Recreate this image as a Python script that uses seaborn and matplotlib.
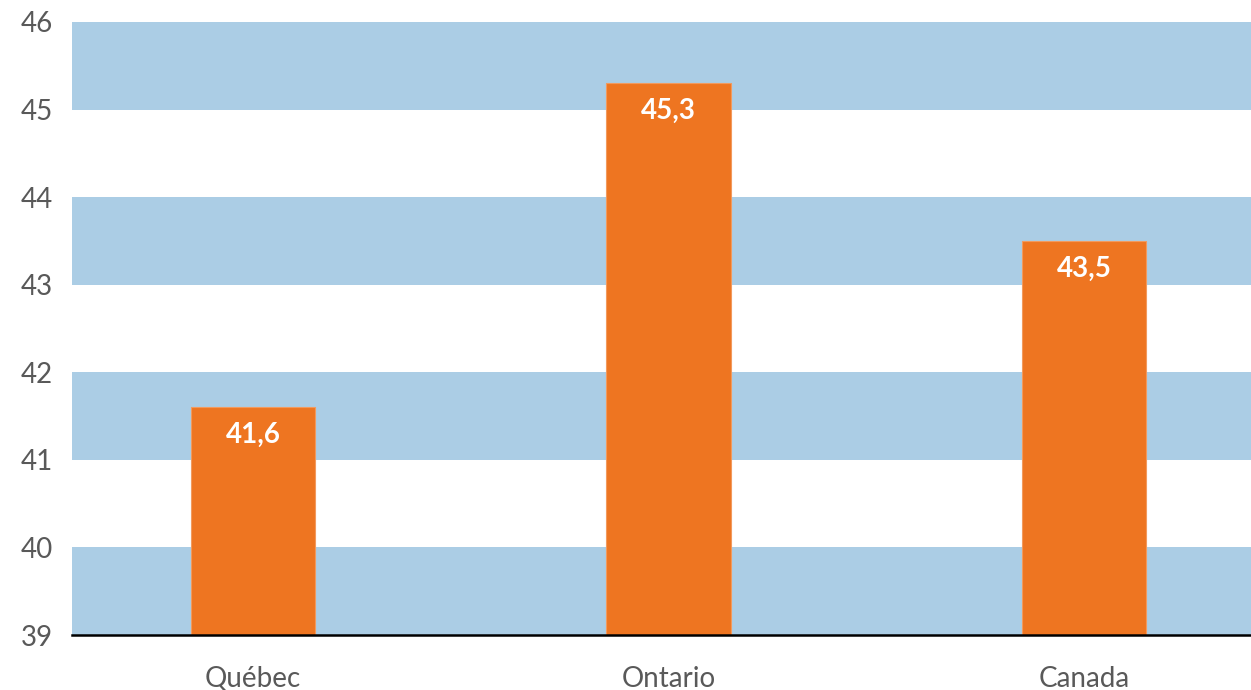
import matplotlib
matplotlib.use("Agg")
import matplotlib.pyplot as plt
import seaborn as sns
import pandas as pd

categories = ["Québec", "Ontario", "Canada"]
values = [41.6, 45.3, 43.5]
value_labels = ["41,6", "45,3", "43,5"]
y_ticks = [39, 40, 41, 42, 43, 44, 45, 46]

sns.set_theme(style="white")
plt.rcParams['font.family'] = ['Lato', 'DejaVu Sans']

df = pd.DataFrame({"cat": categories, "val": values})

fig = plt.figure(figsize=(12.51, 6.90), dpi=100)
ax = fig.add_axes([72/1251, 55/690, 1 - 72/1251, (635-22)/690])

for lo in [39, 41, 43, 45]:
    ax.axhspan(lo, lo + 1, color="#ABCDE5", zorder=0, lw=0)

sns.barplot(data=df, x="cat", y="val", order=categories, color="#EE7521",
            saturation=1, width=0.30, ax=ax, zorder=2, edgecolor="#F29A5E", linewidth=0.8)

ax.set_ylim(39, 46)
ax.set_xlim(-0.4356, 2.402)
ax.set_yticks(y_ticks)
ax.set_yticklabels([str(t) for t in y_ticks])
ax.set_xlabel("")
ax.set_ylabel("")
for s in ["top", "right", "left"]:
    ax.spines[s].set_visible(False)
ax.spines["bottom"].set_color("black")
ax.spines["bottom"].set_linewidth(1.8)
ax.spines["bottom"].set_zorder(5)
ax.tick_params(axis="y", length=0, pad=14, labelsize=20, labelcolor="#595959")
ax.tick_params(axis="x", length=0, pad=22, labelsize=20, labelcolor="#595959")

for i, (v, lab) in enumerate(zip(values, value_labels)):
    ax.annotate(lab, xy=(i, v), xytext=(0, -20), textcoords="offset points",
                ha="center", va="center", color="white", fontsize=20,
                fontweight="bold", zorder=6)

fig.savefig("out.png", dpi=100)
